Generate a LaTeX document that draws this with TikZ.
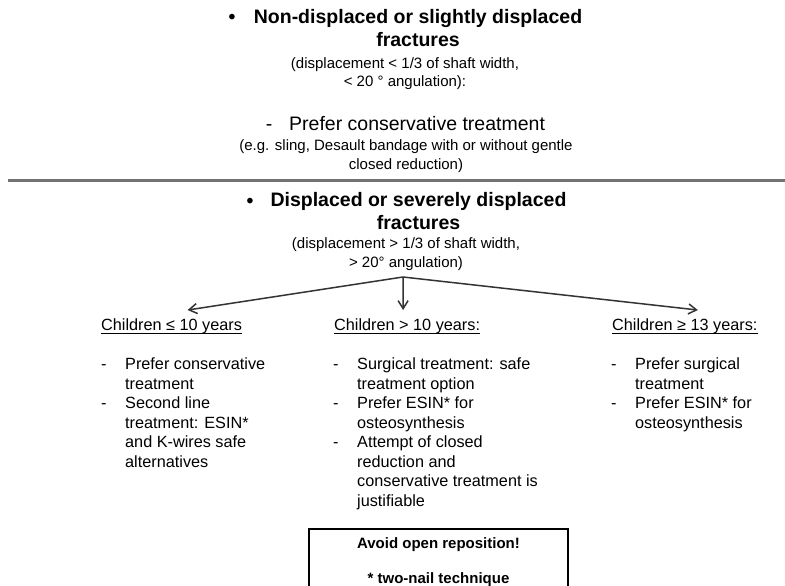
\documentclass[tikz,border=0pt]{standalone}
\usepackage{fontspec}
\setmainfont{Liberation Sans}
\usetikzlibrary{arrows.meta}
\begin{document}
\begin{tikzpicture}[x=1pt, y=-1pt,
    head/.style={font=\fontsize{19.5}{23}\selectfont\bfseries, align=center, inner sep=0, anchor=base},
    sub/.style={font=\fontsize{19.5}{22.5}\selectfont, inner sep=0, anchor=base},
    paren/.style={font=\fontsize{15}{18.5}\selectfont, align=center, inner sep=0, anchor=base},
    body/.style={font=\fontsize{16.25}{19.5}\selectfont, inner sep=0, anchor=base west},
    arr/.style={-{Straight Barb[length=8pt,width=10pt]}, line width=1.5pt, black!80}]
        \useasboundingbox (0,0) rectangle (785,586);
        % non-displaced (base of a two-line node = its last line)
        \node[head] (dot1) at (232,23.5) {•};
        \node[head] (nondisp) at (418,47) {Non-displaced or slightly displaced\\fractures};
        \node[paren] (nondispnote) at (405,87) {(displacement < 1/3 of shaft width,\\< 20 ° angulation):};
        \node[sub] (dash1) at (269,131) {-};
        \node[sub, anchor=base west] (cons) at (289,131) {Prefer conservative treatment};
        \node[paren] (consnote) at (406,169) {(e.g. sling, Desault bandage with or without gentle\\closed reduction)};
        \draw[line width=3pt, black!55] (8,180) -- (785,180);
        % displaced
        \node[head] (dot2) at (250,207) {•};
        \node[head] (disp) at (418.5,229.5) {Displaced or severely displaced\\fractures};
        \node[paren] (dispnote) at (406,267) {(displacement > 1/3 of shaft width,\\> 20° angulation)};
        \coordinate (fork) at (403,277);
        \node[body] (young) at (101,330) {Children ≤ 10 years};
        \node[body] (mid) at (334,330) {Children > 10 years:};
        \node[body] (old) at (612,330) {Children ≥ 13 years:};
        \foreach \n in {young,mid,old}
            \draw[line width=0.9pt] ([yshift=-3pt]\n.base west) -- ([yshift=-3pt]\n.base east);
        \draw[arr] (fork) -- ([shift={(16,-8)}]young.north);
        \draw[arr] (fork) -- ([shift={(-4,-8)}]mid.north);
        \draw[arr] (fork) -- ([shift={(13,-8)}]old.north);
        \node[body] (youngtxt) at (101,369.5) {\begin{tabular}[t]{@{}p{24pt}@{}l@{}}
            - & Prefer conservative\\ & treatment\\ - & Second line\\ & treatment: ESIN*\\
            & and K-wires safe\\ & alternatives\end{tabular}};
        \node[body] (midtxt) at (333,369.5) {\begin{tabular}[t]{@{}p{24pt}@{}l@{}}
            - & Surgical treatment: safe\\ & treatment option\\ - & Prefer ESIN* for\\ & osteosynthesis\\
            - & Attempt of closed\\ & reduction and\\ & conservative treatment is\\ & justifiable\end{tabular}};
        \node[body] (oldtxt) at (611,369.5) {\begin{tabular}[t]{@{}p{24pt}@{}l@{}}
            - & Prefer surgical\\ & treatment\\ - & Prefer ESIN* for\\ & osteosynthesis\end{tabular}};
        % note box
        \node[draw, line width=1.8pt, minimum width=259pt, minimum height=66pt, anchor=north, align=center,
              font=\fontsize{15}{17.5}\selectfont\bfseries] (avoid) at (438.5,528)
              {Avoid open reposition!\\[17.5pt]* two-nail technique};
\end{tikzpicture}
\end{document}
